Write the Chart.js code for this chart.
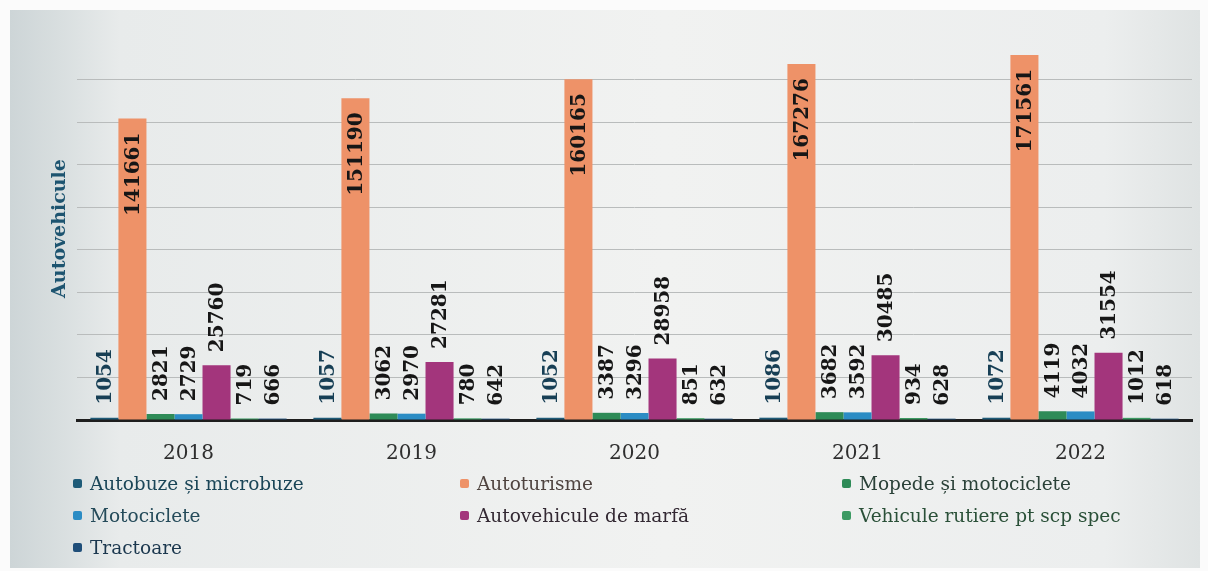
<!DOCTYPE html>
<html>
<head>
<meta charset="utf-8">
<script src="https://cdn.jsdelivr.net/npm/chart.js@4/dist/chart.umd.min.js"></script>
<style>
  html, body { margin: 0; padding: 0; background: #fbfbfb; }
  #wrap { position: relative; width: 1208px; height: 571px; overflow: hidden; }
  #paper {
    position: absolute; left: 10px; top: 10px; width: 1190px; height: 558px;
    background: linear-gradient(90deg, #cdd5d7 0px, #d8dedf 48px, #e8ebeb 110px, #f1f2f1 55%, #eceeee 92%, #dfe3e3 100%);
  }
  #grafico { position: absolute; left: 0; top: 0; }
  #legenda {
    position: absolute; left: 73px; top: 469px; width: 1120px;
    display: grid; grid-template-columns: 387px 382px 350px; row-gap: 3px;
    font-family: "DejaVu Serif", serif; font-size: 18.5px;
  }
  .item { display: flex; align-items: center; height: 29px; white-space: nowrap; }
  .item i { display: inline-block; width: 9px; height: 9px; border-radius: 2px; margin-right: 8px; }
</style>
</head>
<body>
<div id="wrap">
  <div id="paper"></div>
  <canvas id="grafico" width="1208" height="571"></canvas>
  <div id="legenda"></div>
</div>
<script>
const anos = ['2018', '2019', '2020', '2021', '2022'];
const autobuze = [1054, 1057, 1052, 1086, 1072];
const autoturisme = [141661, 151190, 160165, 167276, 171561];
const mopede = [2821, 3062, 3387, 3682, 4119];
const motociclete = [2729, 2970, 3296, 3592, 4032];
const marfa = [25760, 27281, 28958, 30485, 31554];
const vehiculeSpec = [719, 780, 851, 934, 1012];
const tractoare = [666, 642, 632, 628, 618];
const yTicks = [0, 20000, 40000, 60000, 80000, 100000, 120000, 140000, 160000, 180000];

const series = [
  { label: 'Autobuze și microbuze', data: autobuze, cor: '#1E5B78', texto: '#1a4557', rotulo: '#173f55' },
  { label: 'Autoturisme', data: autoturisme, cor: '#EE9268', texto: '#4f4440', rotulo: '#161616', dentro: true },
  { label: 'Mopede și motociclete', data: mopede, cor: '#2E8B57', texto: '#2a4138', rotulo: '#161616' },
  { label: 'Motociclete', data: motociclete, cor: '#2B8CC4', texto: '#254b5a', rotulo: '#161616' },
  { label: 'Autovehicule de marfă', data: marfa, cor: '#A3357C', texto: '#332933', rotulo: '#161616' },
  { label: 'Vehicule rutiere pt scp spec', data: vehiculeSpec, cor: '#3C9A63', texto: '#2a5038', rotulo: '#161616' },
  { label: 'Tractoare', data: tractoare, cor: '#1F4E79', texto: '#1c384f', rotulo: '#161616' }
];

// rotulos verticais em cima das barras
const rotulos = {
  id: 'rotulos',
  afterDatasetsDraw(chart) {
    const ctx = chart.ctx;
    chart.data.datasets.forEach((ds, i) => {
      const meta = chart.getDatasetMeta(i);
      const s = series[i];
      meta.data.forEach((el, j) => {
        ctx.save();
        ctx.font = 'bold 20px "DejaVu Serif"';
        ctx.fillStyle = s.rotulo;
        ctx.textBaseline = 'middle';
        if (s.dentro) {
          ctx.translate(el.x + 1, el.y + 14);
          ctx.rotate(-Math.PI / 2);
          ctx.textAlign = 'right';
        } else {
          ctx.translate(el.x + 1, el.y - 13);
          ctx.rotate(-Math.PI / 2);
          ctx.textAlign = 'left';
        }
        ctx.fillText(String(ds.data[j]), 0, 0);
        ctx.restore();
      });
    });
  }
};

new Chart(document.getElementById('grafico'), {
  type: 'bar',
  data: {
    labels: anos,
    datasets: series.map(s => ({
      label: s.label,
      data: s.data,
      backgroundColor: s.cor,
      borderWidth: 0,
      barPercentage: 1,
      categoryPercentage: 0.88
    }))
  },
  options: {
    responsive: false,
    animation: false,
    layout: { padding: { left: 37, right: 16, top: 37, bottom: 111 } },
    plugins: {
      legend: { display: false },
      tooltip: { enabled: false }
    },
    scales: {
      x: {
        afterFit: s => { s.height = 40; },
        grid: { display: false },
        border: { display: true, color: '#1e1e1e', width: 3 },
        ticks: { color: '#2e2e2e', padding: 14, font: { family: 'DejaVu Serif', size: 20 } }
      },
      y: {
        min: 0,
        max: 180000,
        afterFit: s => { s.width = 40; },
        afterBuildTicks: s => { s.ticks = yTicks.map(v => ({ value: v })); },
        border: { display: false },
        grid: {
          drawTicks: false,
          color: c => (c.tick.value === 180000 || c.tick.value === 0) ? 'rgba(0,0,0,0)' : '#b9bcbc'
        },
        ticks: { display: false },
        title: {
          display: true,
          text: 'Autovehicule',
          color: '#1d5470',
          padding: { top: 12, bottom: 0 },
          font: { family: 'DejaVu Serif', size: 19, weight: 'bold' }
        }
      }
    }
  },
  plugins: [rotulos]
});

// legenda em html
const leg = document.getElementById('legenda');
series.forEach(s => {
  const d = document.createElement('div');
  d.className = 'item';
  d.style.color = s.texto;
  d.innerHTML = '<i style="background:' + s.cor + '"></i>' + s.label;
  leg.appendChild(d);
});
</script>
</body>
</html>
